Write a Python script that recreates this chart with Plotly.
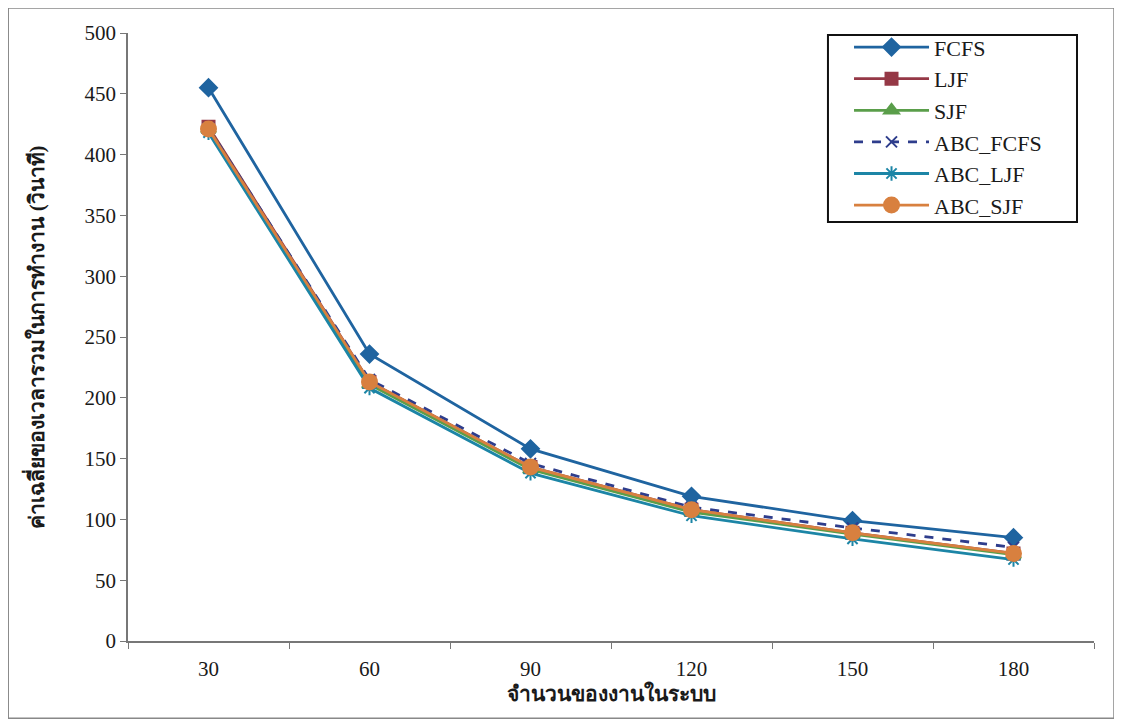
import plotly.graph_objects as go

categories = ["30", "60", "90", "120", "150", "180"]
fcfs = [455, 236, 158, 119, 99, 85]
ljf = [423, 213, 143, 108, 89, 72]
sjf = [421, 211, 141, 106, 88, 71]
abc_fcfs = [422, 215, 146, 110, 93, 77]
abc_ljf = [418, 208, 138, 103, 84, 67]
abc_sjf = [421, 213, 143, 108, 89, 72]

series = [
    ("FCFS", fcfs, "#1f64a0", "solid", "diamond", 13),
    ("LJF", ljf, "#953846", "solid", "square", 12),
    ("SJF", sjf, "#5a9e4a", "solid", "triangle-up", 13),
    ("ABC_FCFS", abc_fcfs, "#2e3d8c", "dash", "x-thin-open", 11),
    ("ABC_LJF", abc_ljf, "#1c85a6", "solid", "asterisk-open", 12),
    ("ABC_SJF", abc_sjf, "#d8803f", "solid", "circle", 15),
]

fig = go.Figure()
for name, vals, color, dash, sym, size in series:
    fig.add_trace(go.Scatter(
        x=categories, y=vals, name=name, mode="lines+markers",
        line=dict(color=color, width=2.8, dash=dash),
        marker=dict(symbol=sym, size=size, color=color,
                    line=dict(color=color, width=2)),
    ))

font_serif = "Liberation Serif, Times New Roman, serif"
tick_font = dict(family=font_serif, size=21, color="#1a1a1a")
fig.update_layout(
    width=1122, height=722,
    paper_bgcolor="white", plot_bgcolor="white",
    margin=dict(l=120, r=36, t=25, b=89),
    font=dict(family=font_serif, size=21, color="#1a1a1a"),
    showlegend=True,
    legend=dict(
        x=0.7464, y=1.011, xanchor="left", yanchor="top",
        bgcolor="rgba(0,0,0,0)", borderwidth=0,
        font=dict(family=font_serif, size=22, color="#1a1a1a"),
        itemwidth=75, tracegroupgap=0,
    ),
    xaxis=dict(
        type="category", range=[-0.5, 5.5], showgrid=False, showline=True,
        linecolor="#777777", linewidth=1.5, ticks="outside",
        tickcolor="#777777", ticklen=6,
        tickson="boundaries", ticklabelstandoff=8, tickfont=tick_font,
        automargin=False,
        title=dict(text="<b>จำนวนของงานในระบบ</b>", standoff=6,
                   font=dict(size=21, family=font_serif)),
    ),
    yaxis=dict(
        range=[0, 500], dtick=50, showgrid=False, showline=True,
        linecolor="#777777", linewidth=1.5, ticks="outside",
        tickcolor="#777777", ticklen=6, zeroline=False, tickfont=tick_font,
        automargin=False,
        title=dict(text="<b>ค่าเฉลี่ยของเวลารวมในการทำงาน (วินาที)</b>", standoff=34,
                   font=dict(size=21, family=font_serif)),
    ),
    shapes=[
        dict(type="rect", xref="paper", yref="paper",
             x0=-0.124, x1=1.0207, y0=-0.127, y1=1.041,
             line=dict(color="#888888", width=1.5)),
        dict(type="rect", xref="paper", yref="paper",
             x0=0.7246, x1=0.9824, y0=0.689, y1=0.9967,
             fillcolor="white", layer="above",
             line=dict(color="#111111", width=2)),
    ],
)

fig.write_html("out.html")
